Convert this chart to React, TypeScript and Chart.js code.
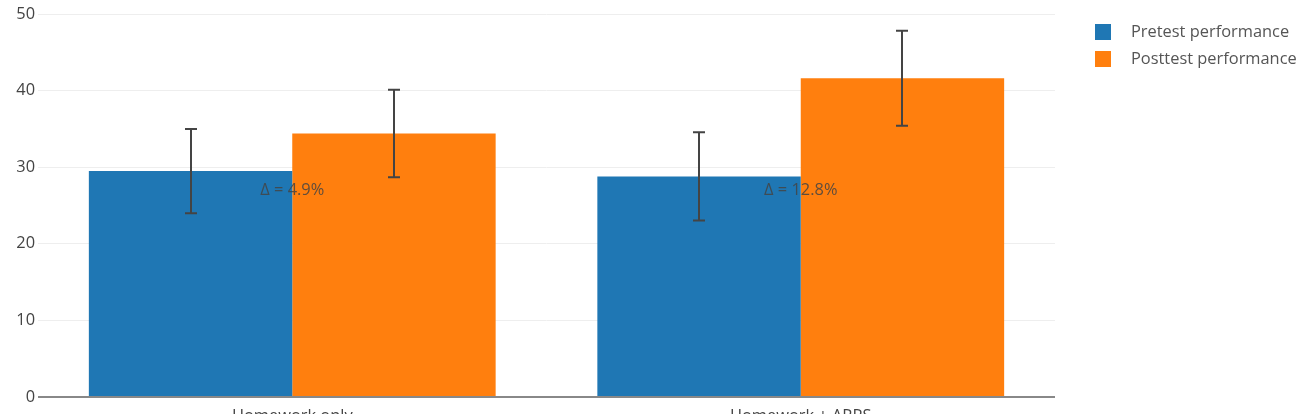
import React, { useEffect, useRef } from "react";
import { Chart, registerables } from "chart.js";

Chart.register(...registerables);

const categories = ["Homework only", "Homework + ARRS"];
const pretestValues = [29.5, 28.8];
const pretestErrors = [5.5, 5.75];
const posttestValues = [34.4, 41.6];
const posttestErrors = [5.7, 6.2];
const deltaLabels = ["Δ = 4.9%", "Δ = 12.8%"];
const deltaY = [27.0, 27.0];
const yTicks = [0, 10, 20, 30, 40, 50];
const seriesNames = ["Pretest performance", "Posttest performance"];
const seriesColors = ["#1f77b4", "#ff7f0e"];

const FONT = "'Open Sans', 'Noto Sans', sans-serif";
const FS = 16.4;

export default function App() {
  const ref = useRef<HTMLCanvasElement | null>(null);
  useEffect(() => {
    document.body.style.margin = "0";
    const canvas = ref.current;
    if (!canvas) return;
    const errors = [pretestErrors, posttestErrors];

    const errorBarPlugin = {
      id: "errorBars",
      afterDatasetsDraw(chart: any) {
        const ctx = chart.ctx;
        const y = chart.scales.y;
        ctx.save();
        ctx.strokeStyle = "#444";
        ctx.lineWidth = 2;
        chart.data.datasets.forEach((ds: any, di: number) => {
          const meta = chart.getDatasetMeta(di);
          meta.data.forEach((bar: any, i: number) => {
            const v = ds.data[i];
            const e = errors[di][i];
            const x = Math.round(bar.x);
            const yt = y.getPixelForValue(v + e);
            const yb = y.getPixelForValue(v - e);
            ctx.beginPath();
            ctx.moveTo(x, yt);
            ctx.lineTo(x, yb);
            ctx.moveTo(x - 6, yt);
            ctx.lineTo(x + 6, yt);
            ctx.moveTo(x - 6, yb);
            ctx.lineTo(x + 6, yb);
            ctx.stroke();
          });
        });
        // annotations
        ctx.fillStyle = "rgba(68,68,68,0.85)";
        ctx.font = `${FS}px ${FONT}`;
        ctx.textAlign = "center";
        ctx.textBaseline = "middle";
        const xs = chart.scales.x;
        deltaLabels.forEach((t, i) => {
          ctx.fillText(t, xs.getPixelForValue(i), y.getPixelForValue(deltaY[i]));
        });
        // legend
        ctx.textAlign = "left";
        chart.data.datasets.forEach((ds: any, di: number) => {
          const cy = 32 + di * 27;
          ctx.fillStyle = ds.backgroundColor;
          ctx.fillRect(1095, cy - 8, 16, 16);
          ctx.fillStyle = "#555";
          ctx.fillText(ds.label, 1131, cy);
        });
        ctx.restore();
      },
    };

    const chart = new Chart(canvas, {
      type: "bar",
      data: {
        labels: categories,
        datasets: [
          { label: seriesNames[0], data: pretestValues, backgroundColor: seriesColors[0] },
          { label: seriesNames[1], data: posttestValues, backgroundColor: seriesColors[1] },
        ],
      },
      options: {
        animation: false,
        responsive: false,
        devicePixelRatio: 1,
        layout: { padding: { left: 0, right: 242, top: 14, bottom: 0 } },
        datasets: { bar: { categoryPercentage: 0.8, barPercentage: 1.0 } },
        plugins: { legend: { display: false }, tooltip: { enabled: false } },
        scales: {
          x: {
            grid: { display: false },
            border: { display: false },
            ticks: { color: "#444", font: { family: FONT, size: FS }, padding: 1, maxRotation: 0 },
            afterFit: (s: any) => { s.height = 17; },
          },
          y: {
            min: 0,
            max: 50,
            afterBuildTicks: (s: any) => { s.ticks = yTicks.map((v) => ({ value: v })); },
            grid: {
              color: (c: any) => (c.tick && c.tick.value === 0 ? "#888" : "#eee"),
              lineWidth: (c: any) => (c.tick && c.tick.value === 0 ? 2 : 1),
              drawTicks: false,
            },
            border: { display: false },
            ticks: { color: "#444", font: { family: FONT, size: FS }, padding: 3 },
            afterFit: (s: any) => { s.width = 38; },
          },
        },
      },
      plugins: [errorBarPlugin],
    });
    return () => chart.destroy();
  }, []);
  return <canvas ref={ref} width={1297} height={414} style={{ display: "block" }} />;
}
